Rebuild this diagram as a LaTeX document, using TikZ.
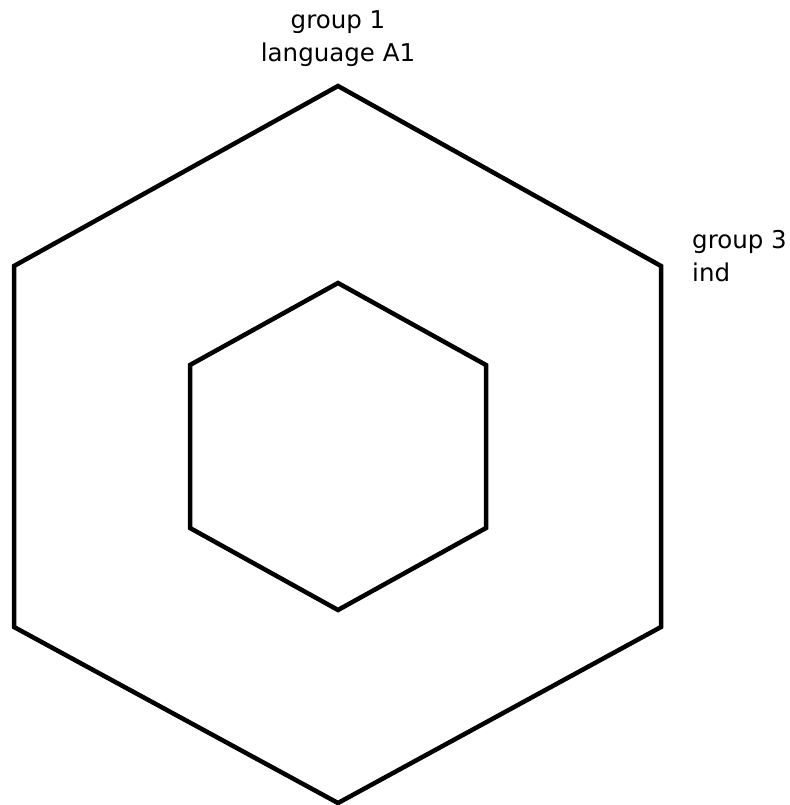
\documentclass[tikz,border=0pt]{standalone}
\usepackage{fontspec}
\setmainfont{DejaVu Sans}
\begin{document}
\begin{tikzpicture}[x=1pt,y=-1pt,
  hex/.style={line width=4.5pt,line join=miter},
  lbl/.style={font=\fontsize{24.5}{33}\selectfont,inner sep=0pt,align=center}]
\useasboundingbox (0,0) rectangle (789,805);
% outer hexagon
\coordinate (o1) at (338,86);
\coordinate (o2) at (661,266);
\coordinate (o3) at (661,627);
\coordinate (o4) at (338,803);
\coordinate (o5) at (14,627);
\coordinate (o6) at (14,266);
\draw[hex] (o1)--(o2)--(o3)--(o4)--(o5)--(o6)--cycle;
% inner hexagon
\coordinate (i1) at (338,283);
\coordinate (i2) at (486,365);
\coordinate (i3) at (486,528);
\coordinate (i4) at (338,610);
\coordinate (i5) at (190,528);
\coordinate (i6) at (190,365);
\draw[hex] (i1)--(i2)--(i3)--(i4)--(i5)--(i6)--cycle;
\node[lbl,anchor=base] (g1) at (338,29) {group 1};
\node[lbl,anchor=base] (g1b) at (338,62) {language A1};
\node[lbl,anchor=base west] (g3) at (692,248) {group 3};
\node[lbl,anchor=base west] (g3b) at (692,281) {ind};
\end{tikzpicture}
\end{document}
